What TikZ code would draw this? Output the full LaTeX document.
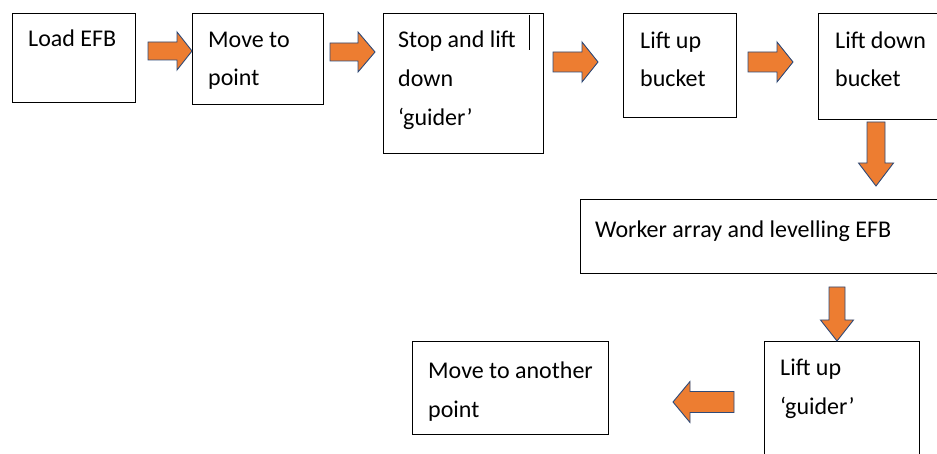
\documentclass[tikz,border=0pt]{standalone}
\usepackage{fontspec}
\setmainfont{Carlito}
\definecolor{arrowfill}{HTML}{ED7D31}
\definecolor{arrowline}{HTML}{2F4A78}
\newcommand{\harrowblk}[6]{\filldraw[blk] (#1,#4-#6) -- (#2,#4-#6) -- (#2,#4-#5) -- (#3,#4) -- (#2,#4+#5) -- (#2,#4+#6) -- (#1,#4+#6) -- cycle;}
\newcommand{\varrowblk}[6]{\filldraw[blk] (#4-#6,#1) -- (#4-#6,#2) -- (#4-#5,#2) -- (#4,#3) -- (#4+#5,#2) -- (#4+#6,#2) -- (#4+#6,#1) -- cycle;}
\begin{document}
\begin{tikzpicture}[x=1pt,y=-1pt,
  box/.style={draw=black, line width=1.2pt, anchor=north west, inner sep=0pt},
  lbl/.style={anchor=base west, inner sep=0pt, align=left, font=\fontsize{24}{38.5}\selectfont},
  blk/.style={fill=arrowfill, draw=arrowline, line width=0.9pt, line join=miter}]
\useasboundingbox (0,0) rectangle (937,454);
\clip (0,0) rectangle (937,454);
\fill[white] (0,0) rectangle (937,454);
% boxes
\node[box, minimum width=123pt, minimum height=89pt] (b1) at (12,13) {};
\node[box, minimum width=131pt, minimum height=91pt] (b2) at (192,13) {};
\node[box, minimum width=160pt, minimum height=140pt] (b3) at (383,13) {};
\node[box, minimum width=113pt, minimum height=104pt] (b4) at (623,13) {};
\node[box, minimum width=130pt, minimum height=106pt] (b5) at (818,13) {};
\node[box, minimum width=370pt, minimum height=74pt] (b6) at (580,199) {};
\node[box, minimum width=155pt, minimum height=130pt] (b7) at (764,341) {};
\node[box, minimum width=196pt, minimum height=93pt] (b8) at (412,341) {};
% texts (anchored at the baseline of the last line)
\node[lbl] (t1) at (28,47) {Load EFB};
\node[lbl] (t2) at (208,86) {Move to\\point};
\node[lbl, font=\fontsize{24}{39}\selectfont] (t3) at (398,126) {Stop and lift\\down\\‘guider’};
\node[lbl] (t4) at (640,87) {Lift up\\bucket};
\node[lbl] (t5) at (835,87) {Lift down\\bucket};
\node[lbl] (t6) at (595,238) {Worker array and levelling EFB};
\node[lbl] (t7) at (780,414) {Lift up\\‘guider’};
\node[lbl] (t8) at (428,417) {Move to another\\point};
% cursor mark
\draw[line width=1pt] (529,15) -- (529,50);
% block arrows
\harrowblk{148}{177}{192}{51}{19}{9}
\harrowblk{330}{358}{375}{52}{20}{9}
\harrowblk{553}{582}{598}{62}{20}{10}
\harrowblk{748}{777}{793}{62}{20}{10}
\varrowblk{122}{163}{186}{876}{17.5}{9}
\varrowblk{287}{320}{341}{837}{16.5}{8}
\harrowblk{734}{690}{673}{402}{20.5}{10.5}
\end{tikzpicture}
\end{document}
